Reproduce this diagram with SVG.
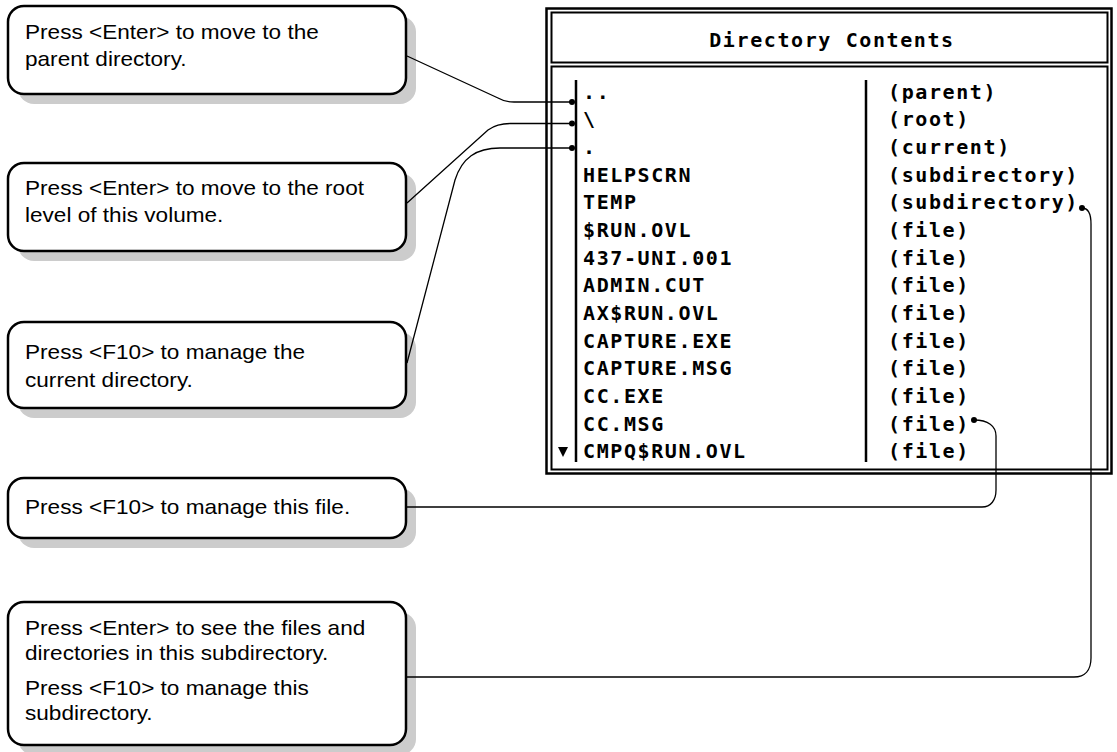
<svg xmlns="http://www.w3.org/2000/svg" width="1117" height="752" viewBox="0 0 1117 752">
<style>
.shadow{fill:#cccccc;stroke:none}
.box{fill:#ffffff;stroke:#000000;stroke-width:2.5}
.ct{font-family:"Liberation Sans",Arial,sans-serif;font-size:20px;fill:#000000}
.dos{font-family:"DejaVu Sans Mono","Liberation Mono",monospace;font-weight:bold;font-size:20px;letter-spacing:1.6px;fill:#000000}
.conn{fill:none;stroke:#000000;stroke-width:1.3}
.dot{fill:#000000}
</style>
<rect width="1117" height="752" fill="#ffffff"/>

<g id="screen">
  <rect x="546.5" y="8.5" width="565" height="465" fill="#ffffff" stroke="#000000" stroke-width="2.5"/>
  <rect x="551.5" y="12.5" width="556" height="50" fill="none" stroke="#000000" stroke-width="2"/>
  <rect x="551.5" y="66.5" width="556" height="403" fill="none" stroke="#000000" stroke-width="2"/>
  <text class="dos" x="832" y="47" text-anchor="middle">Directory Contents</text>
  <line x1="576" y1="80" x2="576" y2="462" stroke="#000000" stroke-width="2.5"/>
  <line x1="866" y1="80" x2="866" y2="462" stroke="#000000" stroke-width="2.5"/>
  <polygon points="558,447 568,447 563,457" fill="#000000"/>
  <g class="dos">
    <text x="583" y="98.5">..</text>
    <text x="583" y="126.2">\</text>
    <text x="583" y="153.9">.</text>
    <text x="583" y="181.5">HELPSCRN</text>
    <text x="583" y="209.2">TEMP</text>
    <text x="583" y="236.9">$RUN.OVL</text>
    <text x="583" y="264.6">437-UNI.001</text>
    <text x="583" y="292.3">ADMIN.CUT</text>
    <text x="583" y="319.9">AX$RUN.OVL</text>
    <text x="583" y="347.6">CAPTURE.EXE</text>
    <text x="583" y="375.3">CAPTURE.MSG</text>
    <text x="583" y="403">CC.EXE</text>
    <text x="583" y="430.7">CC.MSG</text>
    <text x="583" y="458.3">CMPQ$RUN.OVL</text>
    <text x="888" y="98.5">(parent)</text>
    <text x="888" y="126.2">(root)</text>
    <text x="888" y="153.9">(current)</text>
    <text x="888" y="181.5">(subdirectory)</text>
    <text x="888" y="209.2">(subdirectory)</text>
    <text x="888" y="236.9">(file)</text>
    <text x="888" y="264.6">(file)</text>
    <text x="888" y="292.3">(file)</text>
    <text x="888" y="319.9">(file)</text>
    <text x="888" y="347.6">(file)</text>
    <text x="888" y="375.3">(file)</text>
    <text x="888" y="403">(file)</text>
    <text x="888" y="430.7">(file)</text>
    <text x="888" y="458.3">(file)</text>
  </g>
</g>

<g id="callout-parent">
  <rect class="shadow" x="18" y="16" width="398" height="88" rx="16"/>
  <rect class="box" x="8" y="6" width="398" height="88" rx="16"/>
  <g transform="translate(25,0) scale(1.13,1)">
    <text class="ct" x="0" y="39">Press &lt;Enter&gt; to move to the</text>
    <text class="ct" x="0" y="66">parent directory.</text>
  </g>
</g>

<g id="callout-root">
  <rect class="shadow" x="18" y="173" width="398" height="88" rx="16"/>
  <rect class="box" x="8" y="163" width="398" height="88" rx="16"/>
  <g transform="translate(25,0) scale(1.13,1)">
    <text class="ct" x="0" y="195">Press &lt;Enter&gt; to move to the root</text>
    <text class="ct" x="0" y="222">level of this volume.</text>
  </g>
</g>

<g id="callout-current">
  <rect class="shadow" x="18" y="332" width="398" height="86" rx="16"/>
  <rect class="box" x="8" y="322" width="398" height="86" rx="16"/>
  <g transform="translate(25,0) scale(1.13,1)">
    <text class="ct" x="0" y="359">Press &lt;F10&gt; to manage the</text>
    <text class="ct" x="0" y="387">current directory.</text>
  </g>
</g>

<g id="callout-file">
  <rect class="shadow" x="18" y="488" width="398" height="60" rx="16"/>
  <rect class="box" x="8" y="478" width="398" height="60" rx="16"/>
  <g transform="translate(25,0) scale(1.13,1)">
    <text class="ct" x="0" y="514">Press &lt;F10&gt; to manage this file.</text>
  </g>
</g>

<g id="callout-subdirectory">
  <rect class="shadow" x="18" y="612" width="398" height="143" rx="16"/>
  <rect class="box" x="8" y="602" width="398" height="143" rx="16"/>
  <g transform="translate(25,0) scale(1.13,1)">
    <text class="ct" x="0" y="635">Press &lt;Enter&gt; to see the files and</text>
    <text class="ct" x="0" y="660">directories in this subdirectory.</text>
    <text class="ct" x="0" y="695">Press &lt;F10&gt; to manage this</text>
    <text class="ct" x="0" y="720">subdirectory.</text>
  </g>
</g>

<g id="connectors">
  <path class="conn" d="M407,56 L498,98 C503,101 507,102 514,102 L572,102"/>
  <path class="conn" d="M407,203 L488,130 C495,125 501,123.5 510,123.5 L572,123.5"/>
  <path class="conn" d="M407,363 L455,180 C462,158 476,148 500,148 L572,148"/>
  <path class="conn" d="M407,507 L982,507 C991,507 996,500 996,490 L996,436 C996,426 988,420 974,420"/>
  <path class="conn" d="M407,677 L1074,677 C1085,677 1091,670 1091,658 L1091,224 C1091,214 1088,208 1082,208"/>
  <circle class="dot" cx="572" cy="102" r="3"/>
  <circle class="dot" cx="572" cy="123.5" r="3"/>
  <circle class="dot" cx="572" cy="148" r="3"/>
  <circle class="dot" cx="974" cy="420" r="3"/>
  <circle class="dot" cx="1082" cy="208" r="3"/>
</g>
</svg>
